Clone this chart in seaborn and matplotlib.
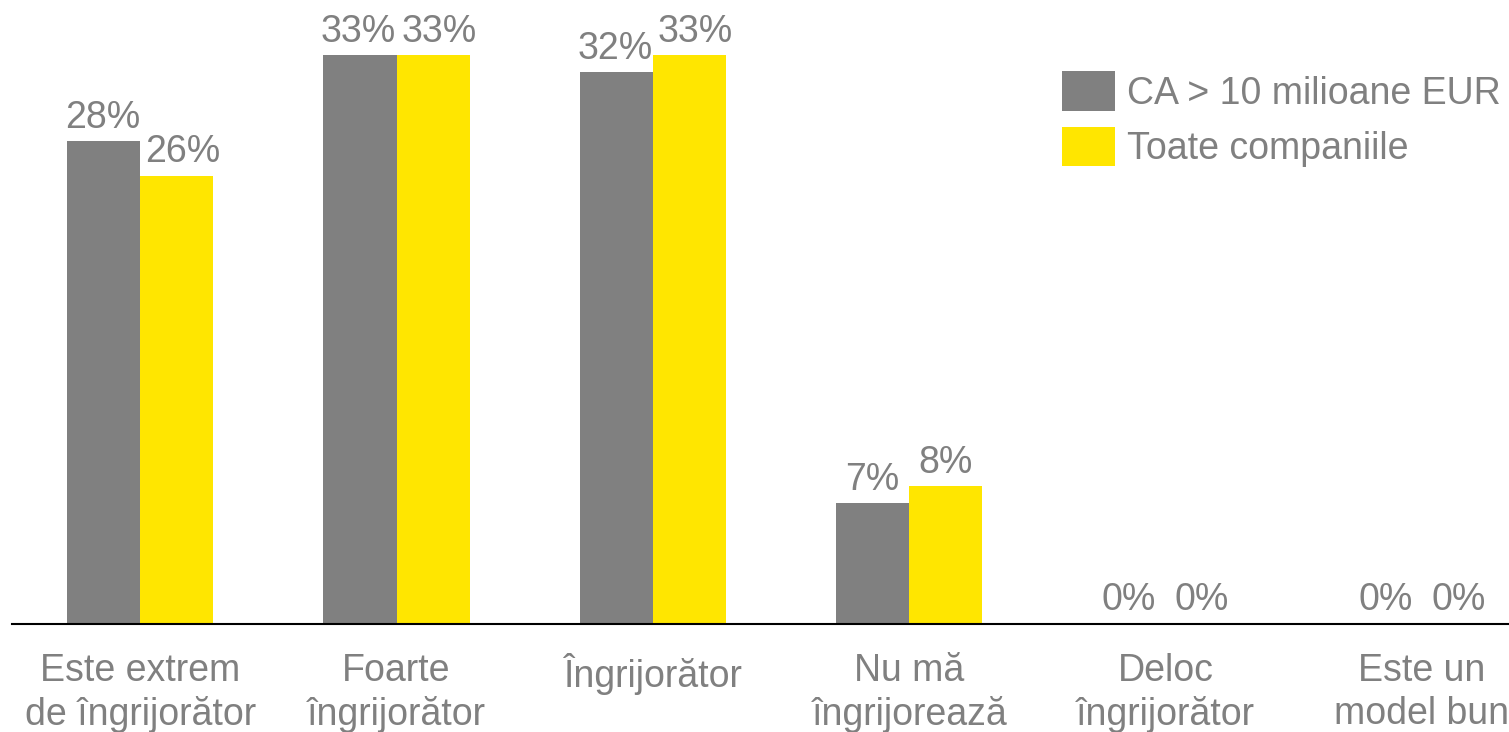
import pandas as pd
import seaborn as sns
import matplotlib.pyplot as plt

# data
categories = ['Este extrem\nde îngrijorător', 'Foarte\nîngrijorător', 'Îngrijorător',
              'Nu mă\nîngrijorează', 'Deloc\nîngrijorător', 'Este un\nmodel bun']
series = ['CA > 10 milioane EUR', 'Toate companiile']
large_cos = [28, 33, 32, 7, 0, 0]
all_cos = [26, 33, 33, 8, 0, 0]

colors = ['#808080', '#FFE600']
text_color = '#808080'
fontsize = 27

sns.set_theme(style='white')
plt.rcParams['font.family'] = ['Liberation Sans', 'DejaVu Sans']

df = pd.DataFrame({
    'category': categories * 2,
    'series': [series[0]] * len(categories) + [series[1]] * len(categories),
    'value': large_cos + all_cos,
})

fig = plt.figure(figsize=(15.09, 7.32), dpi=100)
ax = fig.add_axes([12 / 1509, 108 / 732, 1 - 12 / 1509, 624 / 732])

sns.barplot(data=df, x='category', y='value', hue='series', palette=colors,
            width=0.57, gap=0, saturation=1, ax=ax, linewidth=0)

# value labels; the wide (two digit) ones are pushed apart so they don't touch
padding = 4
nudge = [-1, 4.5]
for cont, dx in zip(ax.containers, nudge):
    texts = ax.bar_label(cont, labels=[f'{int(v)}%' for v in cont.datavalues],
                         padding=padding, fontsize=fontsize, color=text_color)
    for t, v in zip(texts, cont.datavalues):
        if v >= 10:
            t.xyann = (dx, padding)

ax.set_xlim(-0.5, 5.34)
ax.set_ylim(0, 36.2)
ax.set_xlabel('')
ax.set_ylabel('')
ax.set_yticks([])
ax.tick_params(axis='x', length=0, pad=21, labelsize=fontsize, labelcolor=text_color)
for lbl in ax.get_xticklabels():
    lbl.set_linespacing(1.25)

sns.despine(ax=ax, left=True, top=True, right=True)
ax.spines['bottom'].set_color('black')
ax.spines['bottom'].set_linewidth(1.5)

leg = ax.legend(loc='upper left', bbox_to_anchor=(1062 / 1509, (732 - 71) / 732),
                bbox_transform=fig.transFigure, frameon=False, fontsize=fontsize,
                handlelength=1.41, handleheight=1.26, handletextpad=0.32,
                labelspacing=0.4, borderaxespad=0, borderpad=0)
for t in leg.get_texts():
    t.set_color(text_color)

fig.savefig('out.png', dpi=100)
